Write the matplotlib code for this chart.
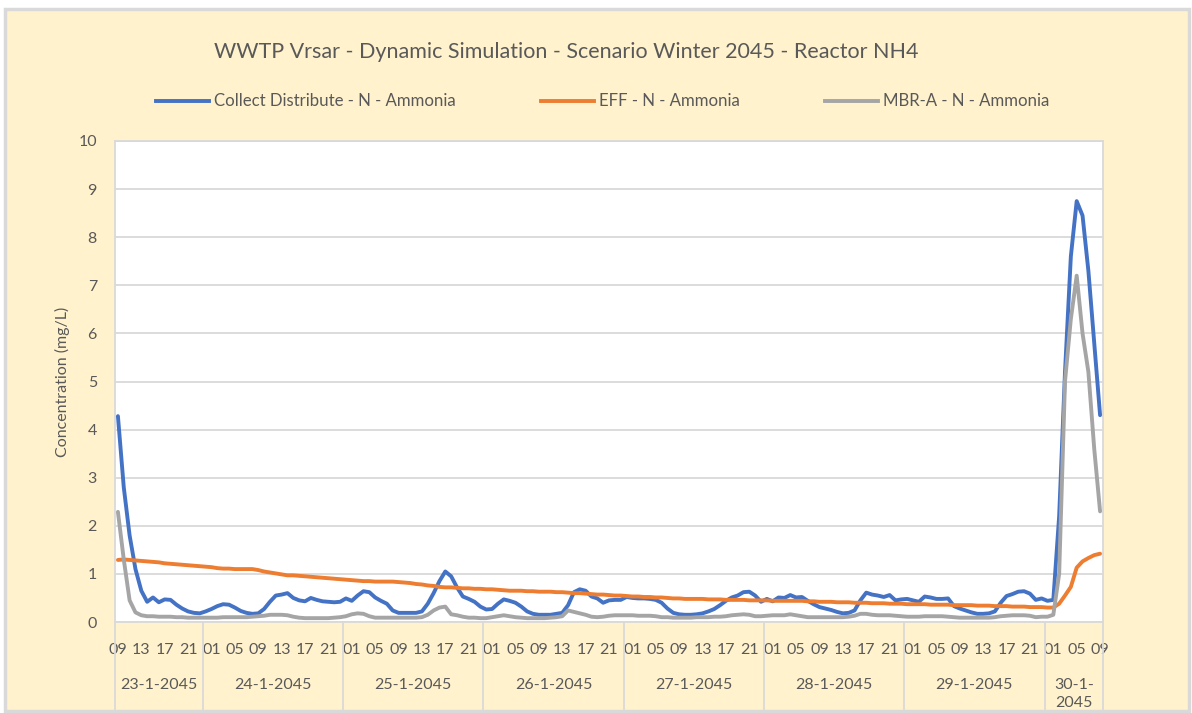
import numpy as np
import matplotlib
matplotlib.use("Agg")
import matplotlib.pyplot as plt
import matplotlib.lines as mlines
import matplotlib.patches as mpatches
import matplotlib.transforms as mtransforms

plt.rcParams['font.family'] = ['Lato', 'DejaVu Sans']

# --- data: hourly values, 23-1-2045 09:00 .. 30-1-2045 09:00 ---

days = ["23-1-2045", "24-1-2045", "25-1-2045", "26-1-2045",
        "27-1-2045", "28-1-2045", "29-1-2045", "30-1-\n2045"]
hours_per_day = [15, 24, 24, 24, 24, 24, 24, 10]
first_hour = 9

collect = [
    4.28, 2.80, 1.80, 1.10, 0.65, 0.42, 0.51, 0.41, 0.47, 0.46,
    0.36, 0.28, 0.22, 0.19, 0.18, 0.22, 0.27, 0.33, 0.37, 0.36,
    0.30, 0.23, 0.19, 0.17, 0.18, 0.27, 0.42, 0.55, 0.57, 0.60,
    0.50, 0.45, 0.43, 0.50, 0.46, 0.43, 0.42, 0.41, 0.42, 0.49,
    0.44, 0.55, 0.64, 0.62, 0.51, 0.44, 0.38, 0.24, 0.19, 0.19,
    0.19, 0.19, 0.22, 0.38, 0.60, 0.85, 1.05, 0.95, 0.72, 0.53,
    0.48, 0.42, 0.32, 0.26, 0.27, 0.38, 0.47, 0.44, 0.40, 0.32,
    0.22, 0.17, 0.15, 0.15, 0.15, 0.17, 0.19, 0.35, 0.62, 0.68,
    0.65, 0.53, 0.49, 0.40, 0.45, 0.46, 0.46, 0.52, 0.50, 0.49,
    0.49, 0.48, 0.46, 0.40, 0.28, 0.19, 0.16, 0.15, 0.15, 0.16,
    0.18, 0.22, 0.27, 0.35, 0.44, 0.51, 0.55, 0.62, 0.63, 0.55,
    0.42, 0.48, 0.43, 0.51, 0.50, 0.56, 0.51, 0.52, 0.44, 0.37,
    0.31, 0.28, 0.25, 0.21, 0.18, 0.19, 0.24, 0.45, 0.61, 0.57,
    0.55, 0.52, 0.56, 0.45, 0.47, 0.48, 0.45, 0.42, 0.53, 0.51,
    0.48, 0.48, 0.49, 0.33, 0.28, 0.24, 0.20, 0.17, 0.17, 0.18,
    0.22, 0.40, 0.54, 0.58, 0.63, 0.64, 0.59, 0.46, 0.49, 0.44,
    0.46, 2.20, 5.20, 7.60, 8.75, 8.45, 7.30, 5.80, 4.30,
]

eff = [
    1.29, 1.30, 1.29, 1.28, 1.27, 1.26, 1.25, 1.24, 1.22, 1.21,
    1.20, 1.19, 1.18, 1.17, 1.16, 1.15, 1.14, 1.12, 1.11, 1.11,
    1.10, 1.10, 1.10, 1.10, 1.08, 1.05, 1.03, 1.01, 0.99, 0.97,
    0.97, 0.96, 0.95, 0.94, 0.93, 0.92, 0.91, 0.90, 0.89, 0.88,
    0.87, 0.86, 0.85, 0.85, 0.84, 0.84, 0.84, 0.84, 0.83, 0.82,
    0.81, 0.79, 0.78, 0.76, 0.75, 0.73, 0.72, 0.72, 0.71, 0.70,
    0.70, 0.69, 0.69, 0.68, 0.68, 0.67, 0.66, 0.65, 0.65, 0.65,
    0.64, 0.64, 0.63, 0.63, 0.63, 0.62, 0.62, 0.61, 0.60, 0.60,
    0.59, 0.58, 0.57, 0.57, 0.56, 0.55, 0.55, 0.54, 0.53, 0.53,
    0.52, 0.52, 0.51, 0.51, 0.50, 0.49, 0.49, 0.48, 0.48, 0.48,
    0.48, 0.47, 0.47, 0.47, 0.46, 0.46, 0.46, 0.46, 0.45, 0.45,
    0.45, 0.45, 0.44, 0.44, 0.44, 0.44, 0.44, 0.44, 0.43, 0.43,
    0.42, 0.42, 0.42, 0.41, 0.41, 0.41, 0.40, 0.40, 0.40, 0.39,
    0.39, 0.39, 0.38, 0.38, 0.38, 0.37, 0.37, 0.37, 0.37, 0.36,
    0.36, 0.36, 0.36, 0.35, 0.35, 0.35, 0.35, 0.34, 0.34, 0.34,
    0.33, 0.33, 0.33, 0.32, 0.32, 0.32, 0.31, 0.31, 0.31, 0.30,
    0.30, 0.38, 0.55, 0.73, 1.13, 1.26, 1.33, 1.39, 1.42,
]

mbr = [
    2.29, 1.30, 0.45, 0.20, 0.14, 0.12, 0.12, 0.11, 0.11, 0.11,
    0.10, 0.10, 0.09, 0.09, 0.09, 0.09, 0.09, 0.09, 0.10, 0.10,
    0.10, 0.10, 0.10, 0.11, 0.12, 0.13, 0.15, 0.15, 0.15, 0.14,
    0.11, 0.09, 0.08, 0.08, 0.08, 0.08, 0.08, 0.09, 0.10, 0.12,
    0.16, 0.18, 0.17, 0.12, 0.09, 0.09, 0.09, 0.09, 0.09, 0.09,
    0.09, 0.09, 0.10, 0.15, 0.24, 0.30, 0.32, 0.16, 0.14, 0.11,
    0.09, 0.09, 0.08, 0.08, 0.10, 0.12, 0.14, 0.12, 0.10, 0.09,
    0.08, 0.08, 0.08, 0.08, 0.09, 0.10, 0.12, 0.24, 0.21, 0.18,
    0.15, 0.11, 0.10, 0.11, 0.13, 0.14, 0.14, 0.14, 0.14, 0.13,
    0.13, 0.13, 0.12, 0.10, 0.10, 0.09, 0.09, 0.09, 0.09, 0.10,
    0.10, 0.10, 0.11, 0.11, 0.12, 0.14, 0.15, 0.16, 0.15, 0.12,
    0.12, 0.13, 0.14, 0.14, 0.14, 0.16, 0.14, 0.12, 0.10, 0.10,
    0.10, 0.10, 0.10, 0.10, 0.10, 0.11, 0.13, 0.17, 0.17, 0.15,
    0.14, 0.14, 0.14, 0.13, 0.12, 0.11, 0.11, 0.11, 0.12, 0.12,
    0.12, 0.12, 0.11, 0.10, 0.09, 0.09, 0.09, 0.09, 0.09, 0.09,
    0.10, 0.12, 0.13, 0.14, 0.14, 0.14, 0.13, 0.10, 0.11, 0.11,
    0.15, 1.00, 5.00, 6.30, 7.20, 6.00, 5.20, 3.60, 2.30,
]

series_names = ["Collect Distribute - N - Ammonia", "EFF - N - Ammonia",
                "MBR-A - N - Ammonia"]
colors = ["#4472C4", "#ED7D31", "#A5A5A5"]

x = np.arange(len(collect))
hour_labels = ["%02d" % ((first_hour + i) % 24) for i in x]

# --- figure ---
W, H = 1192, 713
fig = plt.figure(figsize=(W / 100, H / 100), dpi=100, facecolor="white")
cream = "#FFF2CC"
grid_c = "#D9D9D9"
txt_c = "#595959"

fig.add_artist(mpatches.Rectangle((4.5 / W, 2.5 / H), 1184 / W, 702 / H,
                                  transform=fig.transFigure,
                                  facecolor=cream, edgecolor=grid_c,
                                  linewidth=2.5, zorder=-10))

ax = fig.add_axes([115 / W, 91 / H, 988 / W, 481 / H])
ax.set_facecolor("white")

for vals, c in zip([collect, eff, mbr], colors):
    ax.plot(x, vals, color=c, lw=2.8, solid_joinstyle="round",
            solid_capstyle="round", zorder=3)

ax.set_xlim(-0.5, len(x) - 0.5)
ax.set_ylim(0, 10)
ax.set_yticks(range(0, 11))
ax.grid(axis="y", color=grid_c, lw=1.3)
ax.set_axisbelow(True)
for s in ax.spines.values():
    s.set_color(grid_c)
    s.set_linewidth(1.3)

ax.set_xticks(x[::4])
ax.set_xticklabels(hour_labels[::4])
ax.tick_params(axis="both", length=0, labelsize=11.5, labelcolor=txt_c)
ax.tick_params(axis="x", pad=15)
ax.tick_params(axis="y", pad=13)
ax.set_ylabel("Concentration (mg/L)", fontsize=11.5, color=txt_c, labelpad=6)

# day group labels and separators below the axis
trans = mtransforms.blended_transform_factory(ax.transData, ax.transAxes)
sep_bottom = -87 / 481
bounds = np.concatenate([[0], np.cumsum(hours_per_day)]) - 0.5
for b in bounds:
    ax.add_line(mlines.Line2D([b, b], [0, sep_bottom], transform=trans,
                              color=grid_c, lw=1.3, clip_on=False))
for i, d in enumerate(days):
    mid = (bounds[i] + bounds[i + 1]) / 2
    ax.text(mid, -56 / 481, d, transform=trans, ha="center", va="top",
            fontsize=11.5, color=txt_c, linespacing=1.4)

fig.text(566 / W, 1 - 52 / H,
         "WWTP Vrsar - Dynamic Simulation - Scenario Winter 2045 - Reactor NH4",
         ha="center", va="center", fontsize=15.5, color=txt_c)

# legend
leg_y = 1 - 101 / H
leg_x = [156, 541, 825]
for name, c, lx in zip(series_names, colors, leg_x):
    x0 = lx / W
    fig.add_artist(mlines.Line2D([x0, x0 + 53 / W], [leg_y, leg_y],
                                 transform=fig.transFigure, color=c, lw=2.8))
    fig.text(x0 + 58 / W, leg_y, name, ha="left", va="center",
             fontsize=12.1, color=txt_c)

fig.savefig("out.png", dpi=100, facecolor="white")
